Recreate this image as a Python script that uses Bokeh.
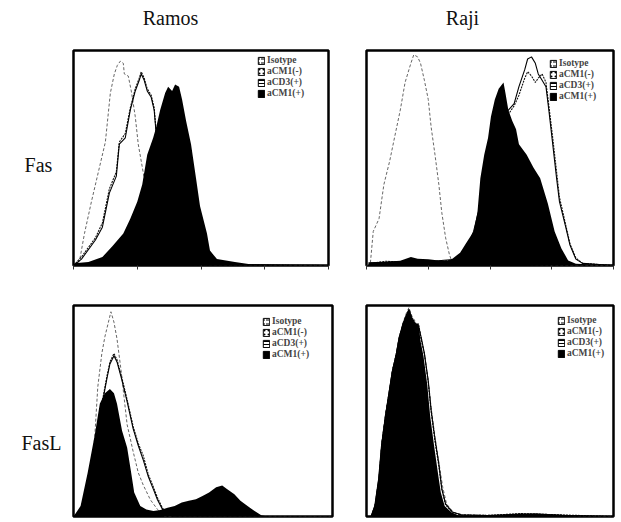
from bokeh.plotting import figure
from bokeh.layouts import column, row
from bokeh.models import Legend, LegendItem, FixedTicker, ColumnDataSource
from bokeh.core.properties import value
from bokeh.embed import file_html
from bokeh.resources import INLINE

SERIES = ["Isotype", "aCM1(-)", "aCD3(+)", "aCM1(+)"]
COL_TITLES = ["Ramos", "Raji"]
ROW_TITLES = ["Fas", "FasL"]
DECADE_TICKS = [0, 64, 128, 192, 256]

# ---- Fas / Ramos ----
fas_ramos_iso_x = [0, 6, 11, 18, 25, 32, 37, 41, 44, 47, 50, 51, 55, 58, 62, 65, 71, 78, 85, 92, 102, 256]
fas_ramos_iso_y = [0, 2, 15, 30, 44, 58, 81, 90, 94, 96, 95, 90, 89, 82, 70, 57, 41, 22, 9, 2, 0.5, 0]
fas_ramos_cm1n_x = [0, 8, 22, 29, 36, 43, 46, 52, 57, 62, 66, 68, 71, 74, 78, 81, 83, 88, 95, 102, 113, 127, 256]
fas_ramos_cm1n_y = [0, 4, 13, 20, 36, 44, 58, 62, 74, 83, 88, 91, 88, 83, 80, 74, 63, 42, 23, 10, 3, 0.5, 0]
fas_ramos_cd3_x = [0, 8, 22, 29, 36, 43, 46, 52, 57, 62, 66, 68, 71, 74, 78, 81, 83, 88, 95, 102, 113, 127, 256]
fas_ramos_cd3_y = [0, 3, 12, 18, 34, 42, 57, 60, 73, 82, 87, 90, 87, 82, 79, 73, 62, 41, 22, 9, 2, 0.5, 0]
fas_ramos_cm1p_x = [1, 15, 29, 39, 50, 57, 64, 69, 74, 80, 83, 87, 92, 95, 99, 102, 106, 109, 113, 118, 123, 127, 134, 137, 144, 162, 179, 232, 256]
fas_ramos_cm1p_y = [1, 1.6, 4, 9, 15, 22, 30, 38, 52, 60, 65, 73, 81, 84, 82, 85, 84, 78, 68, 57, 41, 28, 15, 7, 3, 1.6, 0.5, 0, 0]

# ---- Fas / Raji ----
fas_raji_iso_x = [0, 4, 7, 13, 18, 24, 29, 35, 40, 46, 49, 53, 56, 60, 64, 67, 71, 75, 78, 82, 86, 89, 97, 256]
fas_raji_iso_y = [0, 1, 16, 22, 38, 49, 60, 73, 86, 95, 99, 98, 95, 87, 78, 65, 52, 38, 25, 13, 5, 1.3, 0.8, 0]
fas_raji_cm1n_x = [4, 20, 40, 60, 80, 97, 104, 111, 118, 126, 133, 140, 147, 153, 158, 164, 167, 171, 175, 178, 182, 186, 189, 193, 197, 200, 206, 211, 217, 224, 256]
fas_raji_cm1n_y = [1, 2, 1.5, 2, 2, 3, 7, 14, 26, 41, 54, 64, 71, 75, 80, 88, 91, 89, 86, 88, 90, 86, 75, 60, 44, 32, 20, 10, 3.5, 1, 0]
fas_raji_cd3_x = [4, 20, 40, 60, 80, 97, 104, 111, 118, 126, 133, 140, 147, 153, 158, 164, 167, 171, 175, 178, 182, 186, 189, 193, 197, 200, 206, 211, 217, 224, 256]
fas_raji_cd3_y = [1, 1.5, 2, 1.5, 2.5, 3, 8, 16, 29, 44, 57, 67, 73, 76, 84, 92, 97, 98, 95, 90, 87, 84, 73, 57, 41, 30, 19, 9.5, 3, 1, 0]
fas_raji_cm1p_x = [2, 20, 35, 46, 53, 64, 75, 86, 89, 97, 104, 111, 115, 118, 122, 126, 129, 133, 137, 142, 144, 147, 151, 155, 158, 166, 173, 180, 188, 195, 202, 209, 217, 256]
fas_raji_cm1p_y = [1.5, 1.8, 2.2, 4, 3.2, 2.9, 2.4, 2.4, 3.2, 6, 11, 16, 25, 41, 52, 60, 70, 78, 83, 86, 81, 73, 68, 64, 57, 52, 46, 41, 29, 16, 8, 2.4, 0.8, 0]

# ---- FasL / Ramos ----
fasl_ramos_iso_x = [12, 17, 21, 24, 28, 31, 35, 37, 40, 43, 47, 50, 53, 59, 64, 69, 76, 83, 90, 256]
fasl_ramos_iso_y = [0.2, 21, 38, 62, 78, 86, 94, 98, 93, 85, 70, 57, 44, 31, 21, 15, 8, 3.4, 0.2, 0]
fasl_ramos_cm1n_x = [14, 21, 28, 33, 36, 40, 43, 48, 53, 59, 64, 69, 74, 79, 83, 88, 93, 100, 256]
fasl_ramos_cm1n_y = [1.8, 25, 54, 67, 74, 78, 75, 66, 56, 43, 35, 29, 20, 14, 9, 4, 1.2, 0, 0]
fasl_ramos_cd3_x = [14, 21, 28, 33, 36, 40, 43, 48, 53, 59, 64, 69, 74, 79, 83, 88, 93, 100, 256]
fasl_ramos_cd3_y = [1.5, 24, 53, 66, 73, 77, 74, 65, 55, 42, 34, 27, 19, 13, 8, 3.4, 1, 0, 0]
fasl_ramos_cm1p_x = [0, 7, 14, 21, 26, 31, 36, 40, 43, 48, 53, 57, 60, 66, 72, 79, 86, 93, 100, 107, 114, 121, 128, 134, 141, 147, 152, 159, 165, 172, 179, 186, 193, 256]
fasl_ramos_cm1p_y = [0, 5, 21, 39, 54, 59, 61, 59, 54, 41, 33, 21, 11.5, 5, 3.4, 2.6, 3.1, 4.2, 5, 6.7, 7.5, 8.3, 9.9, 11.5, 14, 14.8, 13.1, 10.7, 7.5, 5, 2.6, 0.5, 0, 0]

# ---- FasL / Raji ----
fasl_raji_iso_x = [5, 9, 13, 16, 20, 24, 27, 31, 34, 38, 41, 44, 47, 51, 54, 57, 60, 64, 67, 71, 75, 79, 83, 90, 100, 130, 170, 220, 256]
fasl_raji_iso_y = [0, 6, 19, 36, 50, 61, 70, 78, 86, 93, 97, 100, 96, 93, 91, 85, 78, 65, 52, 38, 26, 14, 6, 2, 0.8, 0.5, 1, 0.3, 0]
fasl_raji_cm1n_x = [5, 9, 13, 16, 20, 24, 27, 31, 34, 38, 41, 44, 47, 51, 54, 57, 60, 64, 67, 71, 75, 78, 82, 89, 98, 125, 160, 200, 256]
fasl_raji_cm1n_y = [0, 5, 18, 35, 49, 60, 70, 78, 85, 92, 96, 99, 95, 92, 92, 84, 78, 64, 50, 36, 24, 13, 5.5, 2, 0.7, 0.5, 1.4, 0.8, 0]
fasl_raji_cd3_x = [5, 9, 13, 16, 20, 24, 27, 31, 34, 38, 41, 44, 47, 51, 54, 57, 60, 64, 67, 71, 75, 78, 82, 89, 98, 125, 160, 200, 256]
fasl_raji_cd3_y = [0, 5.5, 18.5, 35, 49, 61, 70, 78, 86, 92, 96, 99, 95, 92, 91, 85, 78, 65, 51, 37, 25, 13.5, 6, 2.2, 0.8, 0.4, 1.2, 0.6, 0]
fasl_raji_cm1p_x = [4, 8, 12, 15, 19, 23, 26, 30, 33, 37, 41, 44, 47, 51, 54, 56, 59, 63, 66, 70, 74, 77, 81, 88, 95, 110, 135, 161, 175, 197, 226, 256]
fasl_raji_cm1p_y = [0, 5, 18, 34, 48, 60, 69, 77, 85, 92, 96.5, 99.4, 95, 92, 92.5, 84, 77, 63, 48, 34, 21, 11.5, 5, 2, 0.6, 0.3, 0.6, 1.3, 1.6, 1, 0.3, 0]

SERIF = "Liberation Serif"
NAN = float("nan")


def blank_fig(width, height, xr, yr):
    f = figure(width=width, height=height, output_backend="svg", toolbar_location=None,
               x_range=xr, y_range=yr, min_border=0)
    f.axis.visible = False
    f.grid.visible = False
    f.outline_line_color = None
    return f


def add_text(f, x, y, txt):
    f.text(x=[x], y=[y], text=[txt], text_font=value(SERIF), text_font_size="20px",
           text_align="center", text_baseline="middle", text_color="#111111")


def make_panel(data, width, height, borders, legend_loc, show_ticks=True):
    bl, br, bt, bb = borders
    p = figure(width=width, height=height, output_backend="svg", toolbar_location=None,
               x_range=(0, 256), y_range=(0, 101), min_border_left=bl, min_border_right=br,
               min_border_top=bt, min_border_bottom=bb)
    p.outline_line_color = "black"
    p.outline_line_width = 2.5
    p.xgrid.visible = False
    p.ygrid.visible = False
    p.yaxis.visible = False
    if show_ticks:
        p.xaxis.ticker = FixedTicker(ticks=DECADE_TICKS)
        p.xaxis.major_label_text_font_size = "0px"
        p.xaxis.major_tick_out = 4
        p.xaxis.major_tick_in = 0
        p.xaxis.minor_tick_out = 0
        p.xaxis.minor_tick_in = 0
        p.xaxis.axis_line_color = None
        p.xaxis.major_tick_line_color = "#333333"
        p.xaxis.major_label_standoff = 0
    else:
        p.xaxis.visible = False

    (ix, iy), (nx, ny), (cx, cy), (fx, fy) = data
    p.line(ix, iy, line_color="#666666", line_width=1, line_dash="3 2")
    p.line(nx, ny, line_color="#111111", line_width=1.1, line_dash="2 1")
    p.line(cx, cy, line_color="#000000", line_width=1.1)
    p.varea(x=fx, y1=[0] * len(fx), y2=fy, fill_color="black")

    # legend proxies (NaN data, never drawn in the plot)
    def proxy(**kw):
        src = ColumnDataSource(dict(left=[NAN], right=[NAN], top=[NAN], bottom=[NAN]))
        return p.quad(source=src, left="left", right="right", top="top", bottom="bottom",
                      line_color="black", line_width=1, **kw)
    r1 = proxy(fill_color="white", hatch_pattern="horizontal_dash", hatch_color="black",
               hatch_scale=4, hatch_weight=1)
    r2 = proxy(fill_color="white", hatch_pattern="dot", hatch_color="black",
               hatch_scale=4, hatch_weight=1)
    r3 = proxy(fill_color="white", hatch_pattern="horizontal_line", hatch_color="black",
               hatch_scale=3, hatch_weight=1)
    r4 = proxy(fill_color="black")
    legend = Legend(items=[LegendItem(label=s, renderers=[r]) for s, r in zip(SERIES, [r1, r2, r3, r4])],
                    location=legend_loc, padding=0, margin=0, spacing=1,
                    glyph_width=8, glyph_height=9, label_height=10, label_standoff=2,
                    label_text_font=SERIF, label_text_font_style="bold",
                    label_text_font_size="9.5px", label_text_line_height=1.0,
                    background_fill_alpha=0, border_line_alpha=0)
    p.add_layout(legend)
    return p


# title strip (page pixels 0-621 x 0-40, y downward)
titles = blank_fig(621, 40, (0, 621), (40, 0))
add_text(titles, 170, 17, COL_TITLES[0])
add_text(titles, 462, 17, COL_TITLES[1])

# row label strips
lab1 = blank_fig(71, 245, (0, 71), (285, 40))
add_text(lab1, 38, 170, ROW_TITLES[0])
lab2 = blank_fig(71, 237, (0, 71), (522, 285))
add_text(lab2, 41, 440, ROW_TITLES[1])

tl = make_panel(
    [(fas_ramos_iso_x, fas_ramos_iso_y), (fas_ramos_cm1n_x, fas_ramos_cm1n_y),
     (fas_ramos_cd3_x, fas_ramos_cd3_y), (fas_ramos_cm1p_x, fas_ramos_cm1p_y)],
    276, 245, (2, 19, 10, 17), (184, 167))
tr = make_panel(
    [(fas_raji_iso_x, fas_raji_iso_y), (fas_raji_cm1n_x, fas_raji_cm1n_y),
     (fas_raji_cd3_x, fas_raji_cd3_y), (fas_raji_cm1p_x, fas_raji_cm1p_y)],
    274, 245, (19, 8, 10, 20), (183, 164))
bl = make_panel(
    [(fasl_ramos_iso_x, fasl_ramos_iso_y), (fasl_ramos_cm1n_x, fasl_ramos_cm1n_y),
     (fasl_ramos_cd3_x, fasl_ramos_cd3_y), (fasl_ramos_cm1p_x, fasl_ramos_cm1p_y)],
    276, 237, (2, 15, 20, 3), (189, 157), show_ticks=False)
br = make_panel(
    [(fasl_raji_iso_x, fasl_raji_iso_y), (fasl_raji_cm1n_x, fasl_raji_cm1n_y),
     (fasl_raji_cd3_x, fasl_raji_cd3_y), (fasl_raji_cm1p_x, fasl_raji_cm1p_y)],
    274, 237, (19, 8, 17, 6), (191, 158), show_ticks=False)

layout = column(titles,
                row(lab1, tl, tr, spacing=0),
                row(lab2, bl, br, spacing=0), spacing=0)

open("out.html", "w").write(file_html(layout, INLINE))
